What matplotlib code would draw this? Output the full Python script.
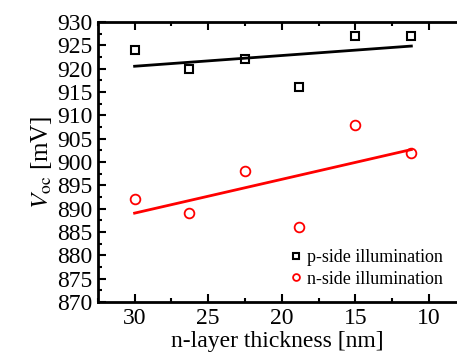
# Voc vs n-layer thickness

import numpy as np
import matplotlib
matplotlib.use('Agg')
import matplotlib.pyplot as plt
from matplotlib.ticker import MultipleLocator

plt.rcParams['font.family'] = 'Liberation Serif'
plt.rcParams['mathtext.fontset'] = 'stix'

# data
thickness = [30, 26.3, 22.5, 18.8, 15, 11.2]
voc_p = [924, 920, 922, 916, 927, 927]
voc_n = [892, 889, 898, 886, 908, 902]

fig = plt.figure(figsize=(4.57, 3.6), dpi=100)
ax = fig.add_axes([0.214, 0.161, 0.786, 0.778])

# linear fits
x = np.array(thickness)
for y, c in [(voc_p, 'black'), (voc_n, 'red')]:
    k, b = np.polyfit(x, y, 1)
    xl = np.array([x.max(), x.min()])
    ax.plot(xl, k * xl + b, color=c, lw=2)

ax.plot(thickness, voc_p, 's', mfc='none', mec='black', ms=6, mew=1.5,
        ls='none', label='p-side illumination')
ax.plot(thickness, voc_n, 'o', mfc='none', mec='red', ms=7, mew=1.3,
        ls='none', label='n-side illumination')

ax.set_xlim(32.5, 8.1)
ax.set_ylim(870, 930)
ax.xaxis.set_major_locator(MultipleLocator(5))
ax.xaxis.set_minor_locator(MultipleLocator(2.5))
ax.yaxis.set_major_locator(MultipleLocator(5))
ax.yaxis.set_minor_locator(MultipleLocator(2.5))
ax.tick_params(which='both', direction='in', top=True, right=False, width=1.5)
ax.tick_params(which='major', length=6, labelsize=17, pad=4)
ax.tick_params(which='minor', length=3)
ax.spines['right'].set_visible(False)
for s in ['left', 'top', 'bottom']:
    ax.spines[s].set_linewidth(2)

ax.set_xlabel('n-layer thickness [nm]', fontsize=17, labelpad=2)
ax.set_ylabel('$V_{\\mathrm{oc}}$ [mV]', fontsize=18, labelpad=2)

ax.legend(loc='lower right', frameon=False, fontsize=13, handletextpad=0.0,
          markerscale=0.7, borderaxespad=0.4, labelspacing=0.25,
          handlelength=1.2)

plt.savefig('out.png', dpi=100)
